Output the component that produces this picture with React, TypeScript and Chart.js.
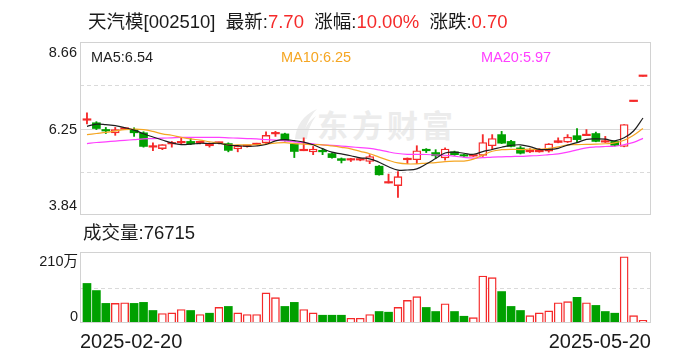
import React, { useEffect, useRef } from "react";
import { Chart, registerables } from "chart.js";

Chart.register(...registerables);

// ---------- data ----------
const stockName = "天汽模";
const stockCode = "002510";
const latestPrice = "7.70";
const changePct = "10.00%";
const changeAmt = "0.70";
const lastVolume = "76715";
const dateLabels = ["2025-02-20", "2025-05-20"];
const priceTickLabels = ["8.66", "6.25", "3.84"];
const volumeTickLabels = ["210万", "0"];
const volumeAxisMax = 210; // 万

const opens = [
  6.48, 6.41, 6.19, 6.13, 6.23, 6.22, 6.13, 5.73, 5.69, 5.82,
  5.85, 5.89, 5.85, 5.77, 5.84, 5.83, 5.68, 5.75, 5.80, 5.85,
  6.10, 6.10, 5.82, 5.63, 5.60, 5.61, 5.55, 5.41, 5.37, 5.37,
  5.33, 5.20, 4.73, 4.66, 5.38, 5.38, 5.64, 5.58, 5.43, 5.60,
  5.50, 5.48, 5.50, 5.77, 6.08, 5.89, 5.71, 5.60, 5.60, 5.62,
  5.86, 5.87, 6.05, 6.05, 6.11, 5.87, 5.89, 5.75, 7.00, 7.70,
];
const highs = [
  6.69, 6.44, 6.28, 6.28, 6.26, 6.27, 6.16, 5.85, 5.80, 5.89,
  5.99, 5.97, 5.88, 5.85, 5.87, 5.85, 5.77, 5.77, 5.84, 6.16,
  6.17, 6.12, 5.84, 5.99, 5.75, 5.68, 5.57, 5.43, 5.42, 5.41,
  5.52, 5.22, 4.98, 5.05, 5.43, 5.77, 5.69, 5.66, 5.71, 5.62,
  5.53, 5.51, 6.08, 6.08, 6.17, 5.92, 5.75, 5.69, 5.69, 5.83,
  5.99, 6.08, 6.25, 6.22, 6.15, 6.03, 5.90, 6.36, 7.00, 7.70,
];
const lows = [
  6.38, 6.22, 6.11, 6.06, 6.22, 6.03, 5.73, 5.63, 5.66, 5.73,
  5.80, 5.80, 5.82, 5.73, 5.82, 5.60, 5.60, 5.73, 5.79, 5.83,
  6.03, 5.90, 5.44, 5.63, 5.52, 5.52, 5.42, 5.29, 5.33, 5.35,
  5.27, 4.95, 4.73, 4.33, 5.27, 5.27, 5.58, 5.42, 5.37, 5.50,
  5.47, 5.47, 5.47, 5.66, 5.83, 5.74, 5.54, 5.58, 5.59, 5.59,
  5.85, 5.86, 5.86, 6.05, 5.88, 5.86, 5.76, 5.74, 7.00, 7.70,
];
const closes = [
  6.48, 6.25, 6.18, 6.22, 6.24, 6.13, 5.75, 5.73, 5.80, 5.83,
  5.89, 5.82, 5.85, 5.77, 5.85, 5.64, 5.75, 5.75, 5.82, 6.06,
  6.14, 5.92, 5.61, 5.63, 5.68, 5.60, 5.44, 5.36, 5.37, 5.39,
  5.47, 4.96, 4.73, 4.91, 5.40, 5.63, 5.63, 5.49, 5.68, 5.52,
  5.48, 5.49, 5.86, 5.97, 5.84, 5.75, 5.56, 5.60, 5.60, 5.82,
  5.91, 6.01, 5.94, 6.05, 5.89, 5.87, 5.78, 6.36, 7.00, 7.70,
];
// volume in 万 shares
const volumes = [
  117, 96, 58, 58, 60, 58, 61, 37, 28, 30,
  40, 37, 25, 29, 46, 49, 30, 25, 25, 89,
  75, 49, 61, 40, 30, 23, 23, 23, 14, 14,
  25, 34, 32, 46, 67, 78, 46, 34, 57, 34,
  20, 16, 139, 134, 93, 49, 37, 22, 30, 36,
  60, 63, 76, 60, 52, 34, 29, 196, 22, 7.6715,
];
// 1 = up day (red), 0 = down day (green) for the volume bars
const volumeUp = [
  0, 0, 0, 1, 1, 0, 0, 0, 1, 1,
  1, 0, 1, 0, 1, 0, 1, 1, 1, 1,
  1, 0, 0, 1, 1, 0, 0, 0, 1, 1,
  1, 0, 0, 1, 1, 1, 0, 0, 1, 0,
  0, 1, 1, 1, 0, 0, 0, 1, 1, 1,
  1, 1, 0, 1, 0, 0, 0, 1, 1, 1,
];
// moving-average values before enough closes are in the window
const ma5Head = [6.31, 6.37, 6.36, 6.33];
const ma10Head = [6.08, 6.11, 6.14, 6.18, 6.22, 6.23, 6.22, 6.17, 6.1];
const ma20Head = [
  5.83, 5.86, 5.88, 5.9, 5.92, 5.94, 5.96, 5.97, 5.98, 5.99,
  6.0, 6.0, 6.0, 6.0, 6.0, 5.99, 5.98, 5.97, 5.96,
];

// ---------- styles ----------
const RED = "#f52a2a";
const GREEN = "#00a000";
const MA5_COLOR = "#1e1e1e";
const MA10_COLOR = "#f5a623";
const MA20_COLOR = "#ff40ff";
const FRAME = "#d2d2d2";
const GRID = "#dadada";
const FONT = '"Liberation Sans", Arial, "Noto Sans CJK SC", sans-serif';

function movingAverage(n: number, head: number[]) {
  return closes.map((_, i) => {
    if (i < n - 1) return head[i];
    let s = 0;
    for (let k = i - n + 1; k <= i; k++) s += closes[k];
    return s / n;
  });
}
const ma5 = movingAverage(5, ma5Head);
const ma10 = movingAverage(10, ma10Head);
const ma20 = movingAverage(20, ma20Head);

const framePlugin = {
  id: "frame",
  beforeDatasetsDraw(chart: any, _args: any, opts: any) {
    const { ctx, chartArea: a, scales } = chart;
    const y = scales.y;
    ctx.save();
    ctx.lineWidth = 1;
    const hline = (v: number, dash: number[], color: string) => {
      const py = Math.round(y.getPixelForValue(v)) + 0.5;
      ctx.setLineDash(dash);
      ctx.strokeStyle = color;
      ctx.beginPath();
      ctx.moveTo(a.left, py);
      ctx.lineTo(a.right, py);
      ctx.stroke();
    };
    (opts.dashed || []).forEach((v: number) => hline(v, [4, 3], GRID));
    (opts.solid || []).forEach((v: number) => hline(v, [], GRID));
    ctx.restore();
  },
  afterDatasetsDraw(chart: any) {
    const { ctx, chartArea: a } = chart;
    ctx.save();
    ctx.setLineDash([]);
    ctx.lineWidth = 1;
    ctx.strokeStyle = FRAME;
    const l = Math.round(a.left) + 0.5;
    const t = Math.round(a.top) + 0.5;
    const r = Math.round(a.right) - 0.5;
    const b = Math.round(a.bottom) - 0.5;
    ctx.strokeRect(l, t, r - l, b - t);
    ctx.restore();
  },
};

const X_MIN = -0.74;
const X_MAX = 59.85;

export default function App() {
  const priceRef = useRef<HTMLCanvasElement>(null);
  const volRef = useRef<HTMLCanvasElement>(null);

  useEffect(() => {
    const pMax = parseFloat(priceTickLabels[0]);
    const pMid = parseFloat(priceTickLabels[1]);
    const pMin = parseFloat(priceTickLabels[2]);
    const idx = closes.map((_, i) => i);
    const isUp = (i: number) => closes[i] >= opens[i];
    const small = (i: number) => Math.abs(closes[i] - opens[i]) < 0.05;

    const xScale = { type: "linear", min: X_MIN, max: X_MAX, display: false, offset: false };

    const price = new Chart(priceRef.current as HTMLCanvasElement, {
      type: "bar",
      data: {
        datasets: [
          {
            type: "line",
            data: idx.map((i) => ({ x: i, y: ma5[i] })),
            borderColor: MA5_COLOR,
            borderWidth: 1.2,
            pointRadius: 0,
            tension: 0.4,
            order: 0,
          } as any,
          {
            type: "line",
            data: idx.map((i) => ({ x: i, y: ma10[i] })),
            borderColor: MA10_COLOR,
            borderWidth: 1.2,
            pointRadius: 0,
            tension: 0.4,
            order: 0,
          } as any,
          {
            type: "line",
            data: idx.map((i) => ({ x: i, y: ma20[i] })),
            borderColor: MA20_COLOR,
            borderWidth: 1.2,
            pointRadius: 0,
            tension: 0.4,
            order: 0,
          } as any,
          {
            type: "bar",
            data: idx.map((i) => ({ x: i, y: [opens[i], closes[i]] })),
            backgroundColor: idx.map((i) => (isUp(i) ? (small(i) ? RED : "#ffffff") : GREEN)),
            borderColor: idx.map((i) => (isUp(i) ? RED : GREEN)),
            borderWidth: idx.map((i) => (isUp(i) && !small(i) ? 1.4 : 0)),
            borderSkipped: false,
            barThickness: 8,
            minBarLength: 1.5,
            grouped: false,
            order: 1,
          } as any,
          {
            type: "bar",
            data: idx.map((i) => ({ x: i, y: [lows[i], highs[i]] })),
            backgroundColor: idx.map((i) => (isUp(i) ? RED : GREEN)),
            borderWidth: 0,
            barThickness: 1.2,
            minBarLength: 0,
            grouped: false,
            order: 2,
          } as any,
        ],
      },
      options: {
        responsive: false,
        maintainAspectRatio: false,
        devicePixelRatio: 1,
        animation: false,
        events: [],
        layout: { padding: { left: 80, right: 37, top: 42, bottom: 10 } },
        scales: {
          x: xScale as any,
          y: { type: "linear", min: pMin, max: pMax, display: false },
        },
        plugins: {
          legend: { display: false },
          tooltip: { enabled: false },
          frame: {
            dashed: [(pMax + pMid) / 2, (pMid + pMin) / 2],
            solid: [pMid],
          },
        } as any,
      },
      plugins: [framePlugin as any],
    });

    const vol = new Chart(volRef.current as HTMLCanvasElement, {
      type: "bar",
      data: {
        datasets: [
          {
            data: idx.map((i) => ({ x: i, y: volumes[i] })),
            backgroundColor: idx.map((i) => (volumeUp[i] ? "#ffffff" : GREEN)),
            borderColor: idx.map((i) => (volumeUp[i] ? RED : GREEN)),
            borderWidth: idx.map((i) => (volumeUp[i] ? 1.4 : 0)),
            borderSkipped: false,
            barThickness: 8,
            grouped: false,
          } as any,
        ],
      },
      options: {
        responsive: false,
        maintainAspectRatio: false,
        devicePixelRatio: 1,
        animation: false,
        events: [],
        layout: { padding: { left: 80, right: 37, top: 12, bottom: 7 } },
        scales: {
          x: xScale as any,
          y: { type: "linear", min: 0, max: volumeAxisMax, display: false },
        },
        plugins: {
          legend: { display: false },
          tooltip: { enabled: false },
          frame: { dashed: [volumeAxisMax / 2], solid: [] },
        } as any,
      },
      plugins: [framePlugin as any],
    });

    return () => {
      price.destroy();
      vol.destroy();
    };
  }, []);

  const n = closes.length;
  const maLabel = (name: string, arr: number[]) => `${name}:${arr[n - 1].toFixed(2)}`;

  const abs = (extra: React.CSSProperties): React.CSSProperties => ({
    position: "absolute",
    whiteSpace: "pre",
    ...extra,
  });

  return (
    <div
      style={{
        position: "absolute",
        left: 0,
        top: 0,
        width: 688,
        height: 360,
        background: "#ffffff",
        overflow: "hidden",
        fontFamily: FONT,
        color: "#1a1a1a",
      }}
    >
      {/* watermark */}
      <svg style={{ position: "absolute", left: 292, top: 108, zIndex: 0 }} width={26} height={32}>
        <path d="M3 31 C 4 18, 11 7, 25 1 C 17 9, 13 19, 11 31 Z" fill="#ececec" />
        <path d="M9 31 C 11 22, 16 14, 24 8 C 19 15, 16 22, 15 31 Z" fill="#ececec" />
      </svg>
      <div
        style={abs({
          left: 317,
          top: 108,
          fontSize: 31,
          lineHeight: "31px",
          letterSpacing: 4,
          fontWeight: 700,
          color: "#ececec",
          fontFamily: '"Noto Sans CJK SC", sans-serif',
          zIndex: 0,
        })}
      >
        东方财富
      </div>

      <canvas
        ref={priceRef}
        width={688}
        height={225}
        style={{ position: "absolute", left: 0, top: 0, width: 688, height: 225, zIndex: 1 }}
      />
      <canvas
        ref={volRef}
        width={688}
        height={90}
        style={{ position: "absolute", left: 0, top: 240, width: 688, height: 90, zIndex: 1 }}
      />

      {/* title */}
      <div style={abs({ left: 88, top: 10, fontSize: 18.5, lineHeight: "24px", zIndex: 2 })}>
        {`${stockName}[${stockCode}]  最新:`}
        <span style={{ color: RED }}>{latestPrice}</span>
        {"  涨幅:"}
        <span style={{ color: RED }}>{changePct}</span>
        {"  涨跌:"}
        <span style={{ color: RED }}>{changeAmt}</span>
      </div>

      {/* MA labels */}
      <div style={abs({ left: 91, top: 48, fontSize: 14.5, lineHeight: "18px", color: MA5_COLOR, zIndex: 2 })}>
        {maLabel("MA5", ma5)}
      </div>
      <div style={abs({ left: 281, top: 48, fontSize: 14.5, lineHeight: "18px", color: MA10_COLOR, zIndex: 2 })}>
        {maLabel("MA10", ma10)}
      </div>
      <div style={abs({ left: 481, top: 48, fontSize: 14.5, lineHeight: "18px", color: MA20_COLOR, zIndex: 2 })}>
        {maLabel("MA20", ma20)}
      </div>

      {/* price axis labels */}
      {priceTickLabels.map((t, k) => (
        <div
          key={t}
          style={abs({
            left: 0,
            width: 77,
            textAlign: "right",
            top: [43, 120, 196][k],
            fontSize: 14.5,
            lineHeight: "18px",
            zIndex: 2,
          })}
        >
          {t}
        </div>
      ))}

      {/* volume title */}
      <div style={abs({ left: 83, top: 221, fontSize: 18.5, lineHeight: "24px", zIndex: 2 })}>
        {`成交量:${lastVolume}`}
      </div>

      {/* volume axis labels */}
      {volumeTickLabels.map((t, k) => (
        <div
          key={t}
          style={abs({
            left: 0,
            width: 78,
            textAlign: "right",
            top: [252, 307][k],
            fontSize: 14.5,
            lineHeight: "18px",
            zIndex: 2,
          })}
        >
          {t}
        </div>
      ))}

      {/* date labels */}
      <div style={abs({ left: 80, top: 329, fontSize: 20, lineHeight: "24px", zIndex: 2 })}>
        {dateLabels[0]}
      </div>
      <div style={abs({ left: 451, width: 200, textAlign: "right", top: 329, fontSize: 20, lineHeight: "24px", zIndex: 2 })}>
        {dateLabels[1]}
      </div>
    </div>
  );
}
